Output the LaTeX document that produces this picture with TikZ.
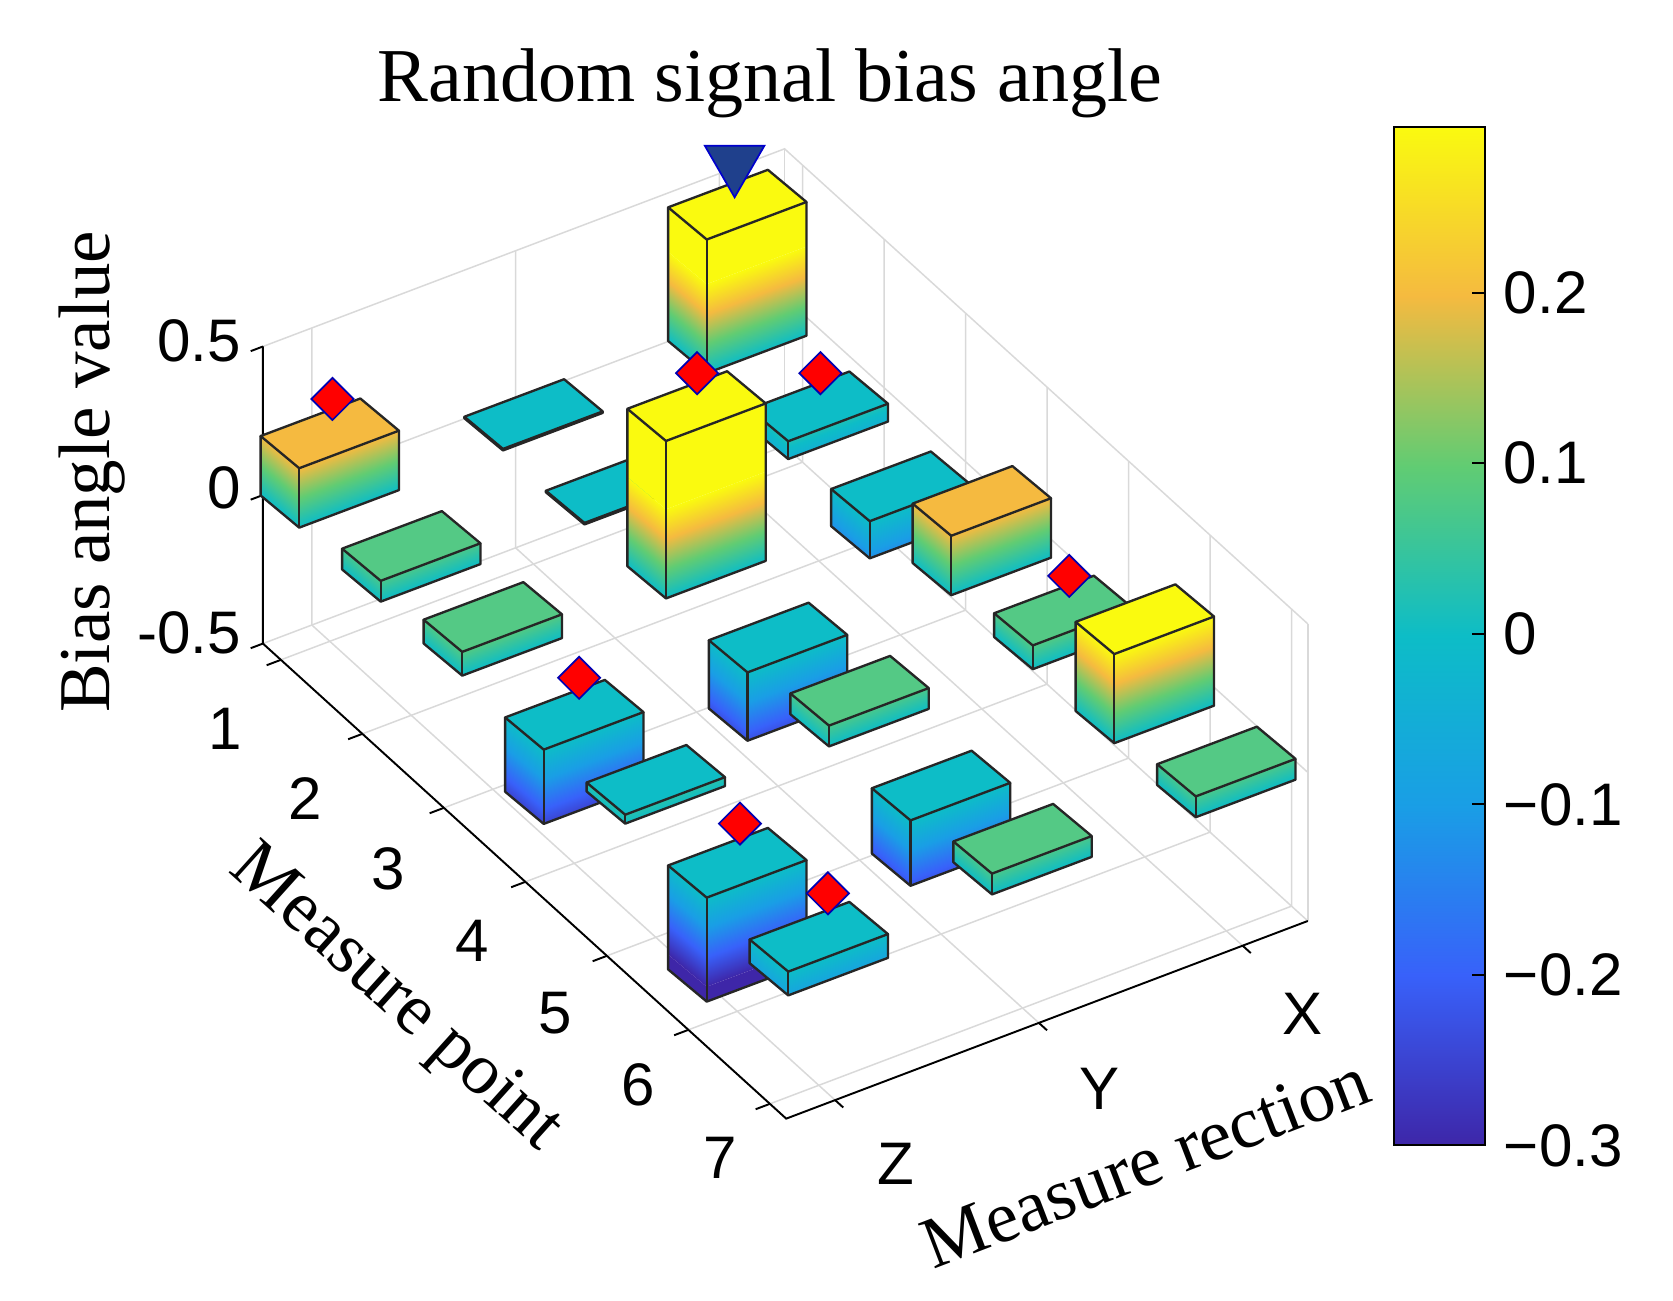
\documentclass[tikz,border=0pt]{standalone}
\usepackage{fontspec}
\setmainfont{Liberation Serif}
\newfontfamily\sansf{Liberation Sans}
\usetikzlibrary{shapes.geometric}
\definecolor{c0}{rgb}{0.2422,0.1504,0.6603}
\definecolor{c1}{rgb}{0.22,0.38,0.98}
\definecolor{c2}{rgb}{0.10,0.62,0.90}
\definecolor{c3}{rgb}{0.05,0.74,0.78}
\definecolor{c4}{rgb}{0.38,0.80,0.45}
\definecolor{c5}{rgb}{0.96,0.73,0.25}
\definecolor{c6}{rgb}{0.98,0.98,0.06}
\definecolor{cg}{rgb}{0.33,0.79,0.52}
\definecolor{gridc}{rgb}{0.85,0.85,0.85}
\pgfdeclareverticalshading{parula}{100bp}{color(0bp)=(c0); color(25bp)=(c0); color(33.333bp)=(c1); color(41.667bp)=(c2); color(50bp)=(c3); color(58.333bp)=(c4); color(66.667bp)=(c5); color(75bp)=(c6); color(100bp)=(c6)}
\newcommand\zface[4]{%
  \begin{scope}[transform canvas={shift={(#1,#2)},yslant=#4}]
    \clip (0,\zb) rectangle (#3,\zt);
    \shade[shading=parula] (0,83.1) rectangle (#3,-83.1);
    \fill[c0] (0,83.1) rectangle (#3,400);
    \fill[c6] (0,-83.1) rectangle (#3,-400);
  \end{scope}}
\newcommand\mybar[5]{%
  \pgfmathsetmacro\Fx{279+(#1-1)*76+(#2-1)*190}%
  \pgfmathsetmacro\Fy{492+(#1-1)*69-(#2-1)*72}%
  \pgfmathsetmacro\Ty{\Fy-(#4)*277}%
  \pgfmathsetmacro\By{\Fy-(#3)*277}%
  \pgfmathsetmacro\zt{-(#4)*277}%
  \pgfmathsetmacro\zb{-(#3)*277}%
  \zface{\Fx-36}{\Fy-30}{36}{-0.8333}%
  \zface{\Fx}{\Fy}{93}{0.3763}%
  \filldraw[barline,fill=#5] (\Fx-36,\Ty-30) -- (\Fx,\Ty) -- (\Fx+93,\Ty-35) -- (\Fx+57,\Ty-65) -- cycle;
  \draw[barline] (\Fx-36,\Ty-30) -- (\Fx-36,\By-30) -- (\Fx,\By) -- (\Fx+93,\By-35) -- (\Fx+93,\Ty-35);
  \draw[barline] (\Fx,\Ty) -- (\Fx,\By);}
\newcommand\defpt[4]{\coordinate (#1) at ({307.5+((#2)-1)*76+((#3)-1)*190},{459.5+((#2)-1)*69-((#3)-1)*72-277*(#4)});}
\begin{document}
\begin{tikzpicture}[x=0.5pt,y=-0.5pt,
  barline/.style={line width=1.1pt,black!85,line join=round},
  gridl/.style={gridc,line width=0.7pt},
  axl/.style={black,line width=0.9pt},
  tick/.style={font=\sansf\fontsize{28}{30}\selectfont,inner sep=0pt},
  lab/.style={font=\fontsize{34}{36}\selectfont,inner sep=0pt},
  diam/.style={diamond,fill=red,draw=blue!70!black,line width=0.8pt,minimum width=20pt,minimum height=20pt,inner sep=0pt},
  tri/.style={regular polygon,regular polygon sides=3,shape border rotate=180,fill={rgb,1:red,0.12;green,0.25;blue,0.55},draw=blue!80!black,line width=0.8pt,minimum size=32pt,inner sep=0pt}]
\useasboundingbox (0,0) rectangle (1560,1213);
\def\pmn{0.78}\def\pmx{7.2}\def\dmn{0.76}\def\dmx{3.32}
% grid
\foreach \p in {1,...,7}{
  \defpt{a}{\p}{\dmn}{-0.5}\defpt{b}{\p}{\dmx}{-0.5}\defpt{c}{\p}{\dmx}{0.5}
  \draw[gridl] (a) -- (b) -- (c);}
\foreach \d in {1,2,3}{
  \defpt{a}{\pmx}{\d}{-0.5}\defpt{b}{\pmn}{\d}{-0.5}\defpt{c}{\pmn}{\d}{0.5}
  \draw[gridl] (a) -- (b) -- (c);}
\foreach \z in {-0.5,0,0.5}{
  \defpt{a}{\pmn}{\dmn}{\z}\defpt{b}{\pmn}{\dmx}{\z}\defpt{c}{\pmx}{\dmx}{\z}
  \draw[gridl] (a) -- (b) -- (c);}
\defpt{a}{\pmn}{\dmx}{-0.5}\defpt{b}{\pmn}{\dmx}{0.5}\draw[gridl] (a) -- (b);
\defpt{a}{\pmx}{\dmx}{-0.5}\defpt{b}{\pmx}{\dmx}{0.5}\draw[gridl] (a) -- (b);
% axes
\defpt{o}{\pmn}{\dmn}{-0.5}\defpt{zt}{\pmn}{\dmn}{0.5}\defpt{pe}{\pmx}{\dmn}{-0.5}\defpt{de}{\pmx}{\dmx}{-0.5}
\draw[axl] (zt) -- (o) -- (pe) -- (de);
\foreach \z in {-0.5,0,0.5}{\defpt{a}{\pmn}{\dmn}{\z}\defpt{b}{\pmn}{0.70}{\z}\draw[axl] (a) -- (b);}
\foreach \p in {1,...,7}{\defpt{a}{\p}{\dmn}{-0.5}\defpt{b}{\p}{0.69}{-0.5}\draw[axl] (a) -- (b);}
\foreach \d in {1,2,3}{\defpt{a}{\pmx}{\d}{-0.5}\defpt{b}{7.3}{\d}{-0.5}\draw[axl] (a) -- (b);}
% bars (back to front)
\mybar{1}{3}{0}{0.45}{c6}
\mybar{1}{2}{0}{0.005}{c3}
\mybar{2}{3}{-0.04}{0.02}{c3}
\mybar{2}{2}{0}{0.005}{c3}
\mybar{3}{3}{-0.125}{0}{c3}
\mybar{1}{1}{0}{0.2}{c5}
\mybar{3}{2}{0}{0.53}{c6}
\mybar{4}{3}{0}{0.2}{c5}
\mybar{2}{1}{0}{0.07}{cg}
\mybar{4}{2}{-0.23}{0}{c3}
\mybar{5}{3}{0}{0.08}{cg}
\mybar{3}{1}{0}{0.08}{cg}
\mybar{5}{2}{0}{0.07}{cg}
\mybar{6}{3}{0}{0.3}{c6}
\mybar{4}{1}{-0.25}{0}{c3}
\mybar{6}{2}{-0.22}{0}{c3}
\mybar{7}{3}{0}{0.07}{cg}
\mybar{5}{1}{0}{0.03}{c3}
\mybar{7}{2}{0}{0.07}{cg}
\mybar{6}{1}{-0.35}{0}{c3}
\mybar{7}{1}{-0.08}{0}{c3}
% markers
\node[diam] (m1) at (310,372) {};
\node[diam] (m2) at (650,348) {};
\node[diam] (m3) at (765,348) {};
\node[diam] (m4) at (997,537) {};
\node[diam] (m5) at (540,632) {};
\node[diam] (m6) at (690,768) {};
\node[diam] (m7) at (772,833) {};
\node[tri] (t1) at (685,152) {};
% tick labels
\node[tick,anchor=east] (z1) at (225,318) {0.5};
\node[tick,anchor=east] (z2) at (225,455) {0};
\node[tick,anchor=east] (z3) at (225,590) {-0.5};
\node[tick] (p1) at (210,680) {1};
\node[tick] (p2) at (285,745) {2};
\node[tick] (p3) at (362,810) {3};
\node[tick] (p4) at (440,877) {4};
\node[tick] (p5) at (518,945) {5};
\node[tick] (p6) at (595,1012) {6};
\node[tick] (p7) at (672,1080) {7};
\node[tick] (dz) at (835,1085) {Z};
\node[tick] (dy) at (1025,1015) {Y};
\node[tick] (dx) at (1215,945) {X};
% axis labels
\node[lab,font=\fontsize{35.5}{38}\selectfont] (title) at (718,78) {Random signal bias angle};
\node[lab,rotate=90] (zl) at (86,440) {Bias angle value};
\node[lab,rotate=-42] (pl) at (368,932) {Measure point};
\node[lab,rotate=21] (dl) at (1068,1084) {Measure rection};
% colorbar
\shade[shading=parula] (1300,1068) rectangle (1385,118);
\draw[axl] (1300,1068) rectangle (1385,118);
\foreach \v/\t in {0.2/0.2,0.1/0.1,0/0,-0.1/−0.1,-0.2/−0.2,-0.3/−0.3}{
  \pgfmathsetmacro\yy{1068-(\v+0.3)*1590}
  \draw[axl] (1385,\yy) -- (1373,\yy);
  \node[tick,anchor=west] at (1402,\yy) {\t};}
\end{tikzpicture}
\end{document}
